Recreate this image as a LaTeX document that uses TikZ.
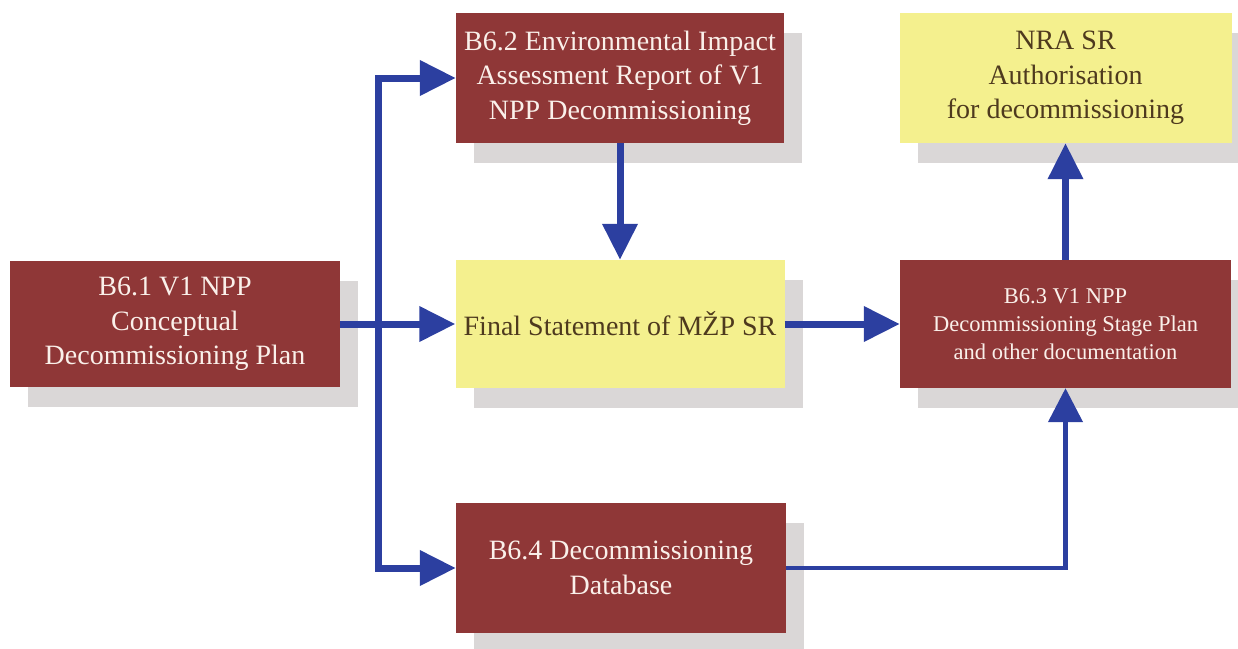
\documentclass[tikz,border=0pt]{standalone}
\usepackage{fontspec}
\setmainfont{Liberation Serif}
\usetikzlibrary{arrows.meta,shadows}
\definecolor{boxred}{HTML}{8F3737}
\definecolor{boxyellow}{HTML}{F4F08E}
\definecolor{shadowgrey}{HTML}{DAD7D7}
\definecolor{arrowblue}{HTML}{2C3FA0}
\definecolor{ytext}{HTML}{4E3A1E}
\definecolor{rtext}{HTML}{FAF0EA}
\begin{document}
\begin{tikzpicture}[x=1pt,y=-1pt,
  box/.style={rectangle, inner sep=0pt, align=center,
    font=\fontsize{28}{34.5}\selectfont,
    general shadow={shadow xshift=18pt, shadow yshift=-20pt, fill=shadowgrey}},
  redbox/.style={box, fill=boxred, text=rtext},
  yelbox/.style={box, fill=boxyellow, text=ytext},
  arr/.style={draw=arrowblue, line width=7pt, -{Triangle[length=36pt,width=34pt]}},
  thinarr/.style={draw=arrowblue, line width=4.5pt, -{Triangle[length=34pt,width=34pt]}}]
\useasboundingbox (0,0) rectangle (1238,648);

\node[redbox, minimum width=330pt, minimum height=126pt] (b61) at (175,324)
  {B6.1 V1 NPP\\Conceptual\\Decommissioning Plan};
\node[redbox, minimum width=328pt, minimum height=130pt] (b62) at (620,78)
  {B6.2 Environmental Impact\\Assessment Report of V1\\NPP Decommissioning};
\node[yelbox, minimum width=329pt, minimum height=128pt] (fin) at (620,324)
  {Final Statement of MŽP SR};
\node[yelbox, minimum width=332pt, minimum height=130pt] (nra) at (1065.5,78)
  {NRA SR\\Authorisation\\for decommissioning};
\node[redbox, minimum width=331pt, minimum height=128pt,
  font=\fontsize{22.5}{28}\selectfont] (b63) at (1065.5,324)
  {B6.3 V1 NPP\\Decommissioning Stage Plan\\and other documentation};
\node[redbox, minimum width=330pt, minimum height=130pt] (b64) at (621,568)
  {B6.4 Decommissioning\\Database};

\coordinate (jm) at (378,324);
\draw[arr] (b61.east) -- (fin.west);
\draw[arr] (jm) |- (b62.west);
\draw[arr] (jm) |- (b64.west);
\draw[arr] (b62.south) -- (fin.north);
\draw[arr] (fin.east) -- (b63.west);
\draw[arr] (b63.north) -- (nra.south);
\draw[thinarr] (b64.east) -| (b63.south);
\end{tikzpicture}
\end{document}
